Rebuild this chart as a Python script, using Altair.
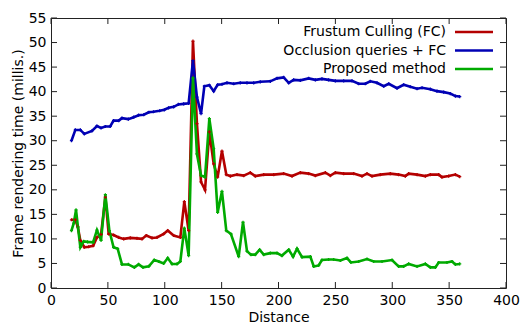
import altair as alt
import pandas as pd

# ---- data ----
fc_x = [18, 21.4, 23.5, 25.8, 29.3, 33, 37, 40.4, 44, 47.8, 50.7, 55, 59.5, 63.9, 69.7, 75.6, 80, 83.8, 88.8,
        93.2, 99, 102.6, 107.8, 113.7, 117.2, 121, 124.8, 128.3, 131.9, 135.4, 139.2, 143, 146.5, 150.3, 154.1,
        157.7, 163.5, 169.4, 175.2, 179.6, 187, 195.8, 204.5, 211.9, 219.2, 226.5, 232.4, 241.2, 245.6, 250,
        257.3, 266.1, 273.4, 277.8, 282.2, 289.5, 298.3, 305.6, 311.5, 314.4, 321.8, 329.1, 333.5, 340.8, 343.7,
        349.6, 355.5, 359.3]
fc_y = [13.9, 13.9, 12.5, 9.7, 8.3, 8.4, 8.6, 10.3, 10.9, 18.5, 11, 10.8, 10.3, 10, 10.2, 10.1, 10, 10.7, 10.2,
        10.3, 11, 11.7, 10.7, 10.3, 17.6, 11.7, 50.3, 33.5, 21.6, 20, 31.8, 25.3, 22.6, 27.9, 23.1,
        22.8, 23.1, 22.9, 23.5, 22.8, 23.1, 23.1, 23.3, 22.8, 23.5, 23.3, 22.9, 23.5, 22.9, 23.5,
        23.3, 23.3, 22.8, 23.3, 22.8, 23.1, 23.3, 23.1, 22.8, 23.3, 23.1, 22.8, 23.1, 23.1, 22.6,
        22.8, 23.1, 22.7]

oq_x = [18, 21.4, 25.8, 29.3, 36, 40.4, 44, 47.8, 52, 55, 59.5, 62.4, 68, 72.7, 77, 81.5, 86, 90, 95.5, 99.6,
        103.4, 107.8, 112, 116.6, 121, 124.8, 128.3, 131.9, 134.8, 139.2, 143, 146.5, 150.3, 154.7, 160.6,
        166.4, 172.3, 178.2, 184, 192.8, 198.7, 204.5, 209, 213.3, 219.2, 226.5, 232.4, 238.2, 244, 250,
        257.3, 264.6, 270.5, 276.3, 280.7, 286.6, 292.5, 296.9, 304.2, 310, 315.9, 321.8, 326.2, 333.5,
        339.3, 345.2, 351, 355.5, 359.3]
oq_y = [30, 32.2, 32.2, 31.4, 32, 33, 32.6, 32.9, 32.9, 34.1, 34.1, 34.6, 34.4, 34.8, 35.2, 35.3, 35.8, 35.9,
        36.1, 36.3, 36.7, 36.9, 37.4, 37.5, 37.6, 46.3, 38.9, 35.5, 41.1, 41.3, 40.1, 41.4, 41.5, 41.8, 41.6,
        41.8, 41.8, 41.8, 42, 42.1, 42.7, 42.9, 41.8, 42.4, 42.3, 42.7, 42.4, 42.6, 42.4, 42.2,
        42.2, 42.2, 41.6, 41.6, 42.1, 41.8, 41.1, 41.6, 40.7, 41.4, 41, 40.6, 40.8, 40.5,
        40.1, 39.9, 39.6, 39.1, 39.0]

pm_x = [18, 20, 22, 23.7, 25.8, 28.7, 32.2, 37, 40.4, 44, 47.8, 51.3, 55, 58.6, 62.4, 68, 73.3, 77, 80.9, 86,
        90.8, 94.7, 99, 102.6, 106.4, 110.8, 113.7, 117.2, 121, 124.8, 128.3, 131.9, 135.4, 139.2, 143, 146.5,
        150.3, 154.1, 158.2, 165, 168.8, 172.3, 175.8, 179.6, 183.4, 187, 192.8, 198.7, 203, 209, 212.8,
        216.3, 220.7, 228, 231, 235.3, 238.2, 244, 248.5, 254.4, 260.2, 263.7, 270.5, 277.8, 283.7, 291,
        299.8, 305.6, 310, 314.4, 321.8, 329.1, 333.5, 337.9, 340.8, 348.1, 352.5, 355.5, 359.3]
pm_y = [11.7, 13.2, 15.9, 12.4, 8.3, 9.5, 9.4, 9.3, 11.8, 9.7, 19, 11.7, 8.3, 8, 4.8, 4.8, 4.2, 4.8, 4.2, 4.4,
        5.7, 5.4, 5, 6.1, 4.9, 4.9, 5.4, 12.2, 6.6, 42.8, 27.3, 22.9, 22.6, 34.5, 28.4, 15.4,
        19.7, 11.7, 11, 6.4, 13.4, 7.5, 6.8, 6.8, 7.8, 6.8, 7.1, 7.1, 6.6, 7.8, 6.4,
        8, 6.3, 6.4, 4.4, 4.6, 5.7, 5.8, 5.8, 5.6, 6.1, 5.2, 5.4, 5.9, 5.4, 5.4,
        5.7, 4.4, 4.4, 4.9, 4.4, 4.9, 4.2, 4.2, 5.2, 5.2, 5.4, 4.8, 4.9]

series_names = ["Frustum Culling (FC)", "Occlusion queries + FC", "Proposed method"]
series_colors = ["#b40000", "#0000b4", "#00aa00"]
x_ticks = [0, 50, 100, 150, 200, 250, 300, 350, 400]
y_ticks = [0, 5, 10, 15, 20, 25, 30, 35, 40, 45, 50, 55]

# ---- build table ----
rows = []
for name, xs, ys in zip(series_names, [fc_x, oq_x, pm_x], [fc_y, oq_y, pm_y]):
    for i, (a, b) in enumerate(zip(xs, ys)):
        rows.append({"series": name, "x": a, "y": b, "i": i})
df = pd.DataFrame(rows)

W, H = 455, 270
FONT = "DejaVu Sans"
xscale = alt.Scale(domain=[0, 400], nice=False, zero=False)
yscale = alt.Scale(domain=[0, 55], nice=False, zero=False)
cscale = alt.Scale(domain=series_names, range=series_colors)

x_axis = alt.Axis(values=x_ticks, title="Distance", format="d", labelPadding=5, titlePadding=3,
                  labelOverlap=False, labelFlush=False, labelBound=False)
y_axis = alt.Axis(values=y_ticks, title="Frame rendering time (millis.)", format="d",
                  labelPadding=5, titlePadding=3,
                  labelOverlap=False, labelFlush=False, labelBound=False)

lines = alt.Chart(df).mark_line(
    strokeWidth=2.6,
    point=alt.OverlayMarkDef(shape="cross", size=10, filled=True),
).encode(
    x=alt.X("x:Q", scale=xscale, axis=x_axis),
    y=alt.Y("y:Q", scale=yscale, axis=y_axis),
    color=alt.Color("series:N", scale=cscale, legend=None),
    detail="series:N",
    order="i:Q",
)

tick_len = 6
xt = pd.DataFrame({"v": x_ticks})
yt = pd.DataFrame({"v": y_ticks})
tick_style = dict(color="#222222", strokeWidth=1)
ticks = [
    alt.Chart(xt).mark_rule(**tick_style).encode(x=alt.X("v:Q", scale=xscale, axis=x_axis), y=alt.value(0), y2=alt.value(tick_len)),
    alt.Chart(xt).mark_rule(**tick_style).encode(x=alt.X("v:Q", scale=xscale, axis=x_axis), y=alt.value(H - tick_len), y2=alt.value(H)),
    alt.Chart(yt).mark_rule(**tick_style).encode(y=alt.Y("v:Q", scale=yscale, axis=y_axis), x=alt.value(0), x2=alt.value(tick_len)),
    alt.Chart(yt).mark_rule(**tick_style).encode(y=alt.Y("v:Q", scale=yscale, axis=y_axis), x=alt.value(W - tick_len), x2=alt.value(W)),
]

# ---- manual legend (label left of sample line, gnuplot style) ----
legend_layers = []
for k, (name, col) in enumerate(zip(series_names, series_colors)):
    ly = 14 + k * 18.5
    ldf = pd.DataFrame({"name": [name]})
    legend_layers.append(
        alt.Chart(ldf).mark_text(align="right", baseline="middle", font=FONT, fontSize=14, color="#000000")
        .encode(text="name:N", x=alt.value(395), y=alt.value(ly))
    )
    legend_layers.append(
        alt.Chart(ldf).mark_rule(color=col, strokeWidth=2.6)
        .encode(x=alt.value(404), x2=alt.value(442), y=alt.value(ly))
    )

chart = alt.layer(lines, *ticks, *legend_layers).properties(
    width=W, height=H,
    autosize=alt.AutoSizeParams(type="none"),
    padding={"left": 51, "top": 18, "right": 24, "bottom": 38},
).configure_view(
    stroke="#222222", strokeWidth=1
).configure_axis(
    grid=False, domain=False, ticks=False, tickSize=0,
    labelFont=FONT, labelFontSize=14, labelColor="#000000",
    titleFont=FONT, titleFontSize=14, titleFontWeight="normal", titleColor="#000000",
)

chart.save("out.html", embed_options={"renderer": "svg", "actions": False})
